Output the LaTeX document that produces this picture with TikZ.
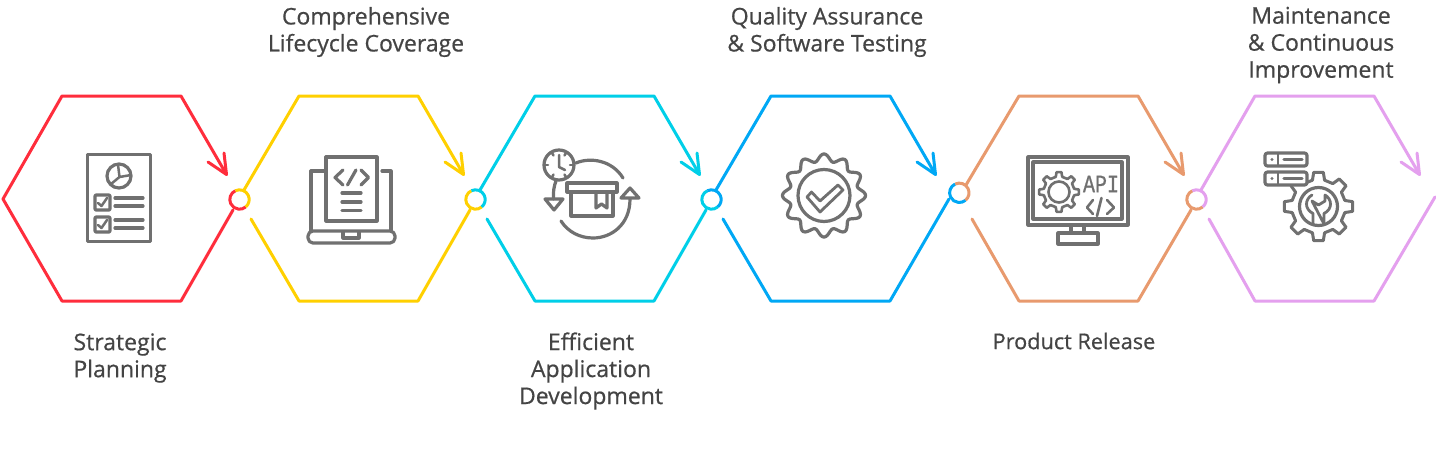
\documentclass[tikz,border=0pt]{standalone}
\usepackage{fontspec}
\setmainfont{Open Sans}
\newfontfamily\lab{Open Sans}[FakeBold=0.6]
\newfontfamily\apifont{Liberation Mono}[FakeBold=0.8]
\definecolor{cred}{HTML}{FF2D3C}
\definecolor{cyel}{HTML}{FFD000}
\definecolor{ccya}{HTML}{00CFE8}
\definecolor{cblu}{HTML}{00A8F5}
\definecolor{cora}{HTML}{E89A6E}
\definecolor{cvio}{HTML}{E4A0EE}
\definecolor{cico}{HTML}{707070}
\definecolor{ctxt}{HTML}{444444}
\tikzset{
  hexline/.style={line width=3pt,line join=round,line cap=round},
  ico/.style={draw=cico,line width=3.2pt,line join=round,line cap=round},
  icothin/.style={draw=cico,line width=2.5pt,line join=round,line cap=round},
  label/.style={font=\lab\fontsize{23}{27}\selectfont,text=ctxt,align=center,inner sep=0pt},
  labelsmall/.style={label,font=\lab\fontsize{21.7}{27}\selectfont}
}
% ring: cx cy colour-prev colour-next (the y axis points down, so angles are negated)
\newcommand{\ringmark}[5]{%
  \node[circle,minimum size=19pt,inner sep=0pt,fill=white] (#5) at (#1,#2) {};
  \draw[#3,line width=3pt] (#1,#2) ++(-115:9.7) arc[start angle=-115,end angle=-310,radius=9.7];
  \draw[#4,line width=3pt] (#1,#2) ++(-115:9.7) arc[start angle=-115,end angle=50,radius=9.7];
}
% open arrowhead at a tip
\newcommand{\vtip}[3]{\draw[hexline,#1] (#2,#3) -- ++(-18.5,-12.5) (#2,#3) -- ++(-2.5,-21.5);}
% gear outline
\newcommand{\geardraw}[7]{% cx cy Rout Rroot n halfroot halftip
  \pgfmathsetmacro{\stp}{360/#5}
  \foreach \i in {1,...,#5}{
    \pgfmathsetmacro{\a}{(\i-1)*\stp}
    \pgfmathsetmacro{\b}{\a+\stp}
    \draw[ico,line width=\gearlw] ([shift={(#1,#2)}]\a-#6:#4) -- ([shift={(#1,#2)}]\a-#7:#3) -- ([shift={(#1,#2)}]\a+#7:#3) -- ([shift={(#1,#2)}]\a+#6:#4) -- ([shift={(#1,#2)}]\b-#6:#4);
  }
}
\def\gearlw{3pt}
\begin{document}
\begin{tikzpicture}[x=1pt,y=-1pt]
\useasboundingbox (0,0) rectangle (1436,469);
\fill[white] (0,0) rectangle (1436,469);

% hexagons
\draw[hexline,cred] (226.5,174.5) -- (181,96) -- (62,96) -- (3,199) -- (62,301) -- (181,301) -- (233,210);
\vtip{cred}{226.5}{174.5}
\draw[hexline,cyel] (463.5,174.5) -- (418,96) -- (299,96) -- (244,190);
\draw[hexline,cyel] (251,219) -- (299,301) -- (418,301) -- (470,210);
\vtip{cyel}{463.5}{174.5}
\draw[hexline,ccya] (699.5,174.5) -- (654,96) -- (535,96) -- (480,190);
\draw[hexline,ccya] (487,219) -- (535,301) -- (654,301) -- (706,210);
\vtip{ccya}{699.5}{174.5}
\draw[hexline,cblu] (935.5,174.5) -- (890,96) -- (771,96) -- (716,190);
\draw[hexline,cblu] (723,219) -- (771,301) -- (890,301) -- (949,199);
\vtip{cblu}{935.5}{174.5}
\draw[hexline,cora] (1183.5,174.5) -- (1138,96) -- (1019,96) -- (966,185);
\draw[hexline,cora] (972,219) -- (1019,301) -- (1138,301) -- (1191,210);
\vtip{cora}{1183.5}{174.5}
\draw[hexline,cvio] (1419.5,174.5) -- (1374,96) -- (1255,96) -- (1201,190);
\draw[hexline,cvio] (1209,219) -- (1255,301) -- (1374,301) -- (1435,197);
\vtip{cvio}{1419.5}{174.5}

% rings
\ringmark{239.5}{199.5}{cred}{cyel}{ringa}
\ringmark{475.5}{199.5}{cyel}{ccya}{ringb}
\ringmark{711.5}{199.5}{ccya}{cblu}{ringc}
\ringmark{959.3}{192.8}{cblu}{cora}{ringd}
\ringmark{1196.5}{199.5}{cora}{cvio}{ringe}

% ---- icon 1: document
\draw[ico] (87.5,154.5) rectangle (150.5,241.5);
\draw[ico] (119,176) circle[radius=12];
\draw[icothin] (118,164.5) -- (119.5,177) -- (131,175) (119.5,177) -- (111,184);
\draw[ico,rounded corners=1pt] (95,195) rectangle (110,210);
\draw[ico,rounded corners=1pt] (95,217) rectangle (110,232);
\draw[icothin] (98,203) -- (101.5,206) -- (107,198);
\draw[icothin] (98,225) -- (101.5,228) -- (107,220);
\draw[ico] (115,198) -- (143,198) (115,206) -- (143,206) (115,220) -- (143,220) (115,228) -- (143,228);

% ---- icon 2: laptop
\draw[ico] (326,157) rectangle (377,221);
\draw[ico] (326,171) -- (311,171) -- (311,231);
\draw[ico] (382,171) -- (391,171) -- (391,231);
\draw[ico,rounded corners=5pt] (308,231) -- (308,243) -- (395,243) -- (395,231) -- cycle;
\draw[ico] (343,232) -- (343,238) -- (359,238) -- (359,232);
\draw[ico] (343,170) -- (335,177.5) -- (343,185) (361,170) -- (368.5,177.5) -- (361,185) (356,170) -- (347.5,185);
\draw[ico] (342,193) -- (361,193) (342,202) -- (361,202) (342,210.5) -- (361,210.5);

% ---- icon 3: box and clock
\draw[ico] (559,165) circle[radius=15];
\draw[icothin] (559,155) -- (559,167) -- (565,170);
\foreach \t in {0,60,120,180,240,300}{\draw[icothin] ([shift={(559,165)}]\t:11) -- ([shift={(559,165)}]\t:14);}
\draw[ico] (567,183) rectangle (617,192);
\draw[ico] (571,192) -- (571,216) -- (613,216) -- (613,192);
\draw[ico] (596,192) -- (596,208) -- (601.5,204) -- (607,208) -- (607,192);
\draw[ico] (576,163) .. controls (590,157) and (612,160) .. (623,178);
\draw[ico] (556,181) .. controls (554,186) and (553,192) .. (553.5,199);
\draw[ico] (545,199) -- (563,199) -- (554,210) -- cycle;
\draw[ico] (621,198) -- (639,198) -- (630,188) -- cycle;
\draw[ico] (630,199) .. controls (630,225) and (611,238) .. (593,238) .. controls (580,238) and (568,232) .. (561,221);

% ---- icon 4: badge
\draw[ico,smooth,domain=0:360,samples=145] plot ({824+(38+3.6*cos(12*\x))*cos(\x)},{195.5+(38+3.6*cos(12*\x))*sin(\x)}) -- cycle;
\draw[ico] (824,195.5) circle[radius=26];
\draw[icothin,line width=2.8pt] (807,197) -- (811.5,192) -- (820,201) -- (838,185) -- (843,190) -- (820,212) -- cycle;

% ---- icon 5: monitor
\draw[ico] (1028,157) rectangle (1128,225);
\draw[ico] (1033,162) rectangle (1122,219);
\draw[ico] (1071,225) -- (1071,233) (1084,225) -- (1084,233);
\draw[ico] (1058,233) rectangle (1098,244);
\def\gearlw{2.6pt}
\geardraw{1059}{192}{20}{15.5}{8}{12}{7}
\draw[ico,line width=2.6pt] (1059,192) circle[radius=10.5];
\node[font=\apifont\fontsize{25}{25}\selectfont,text=cico,xscale=0.8,inner sep=0pt] (apilabel) at (1101,184) {API};
\draw[ico,line width=2.6pt] (1093,200) -- (1087,207.5) -- (1093,214) (1107,200) -- (1114,207.5) -- (1107,214) (1101.5,198) -- (1097,216);

% ---- icon 6: servers and gear
\def\gearlw{3pt}
\geardraw{1318.5}{206.5}{34.5}{27}{8}{13}{8}
\draw[ico] (1318.5,206.5) circle[radius=19];
\draw[ico,line width=2.8pt] (1312,195) .. controls (1305,199) and (1304,209) .. (1313,213.5) -- (1313,224) (1324,224) -- (1324,213.5) .. controls (1333,209) and (1332,199) .. (1325,195) -- (1325,201) -- (1318.5,205) -- (1312,201) -- cycle;
\draw[ico,fill=white,rounded corners=2.5pt] (1265,153) rectangle (1307,166);
\draw[ico,fill=white,rounded corners=2.5pt] (1265,172) rectangle (1307,185);
\fill[cico] (1272,159.5) circle[radius=1.6] (1272,178.5) circle[radius=1.6];
\draw[icothin] (1278,154) -- (1278,165) (1278,173) -- (1278,184);
\draw[ico] (1284,159.5) -- (1302,159.5) (1284,178.5) -- (1302,178.5);

% labels
\node[label] (la) at (120,358) {Strategic\\Planning};
\node[label] (lb) at (366,32) {Comprehensive\\Lifecycle Coverage};
\node[label] (lc) at (591,371) {Efficient\\Application\\Development};
\node[label] (ld) at (827,32) {Quality Assurance\\\& Software Testing};
\node[labelsmall] (le) at (1074,341) {Product Release};
\node[label] (lf) at (1321,45) {Maintenance\\\& Continuous\\Improvement};
\end{tikzpicture}
\end{document}
